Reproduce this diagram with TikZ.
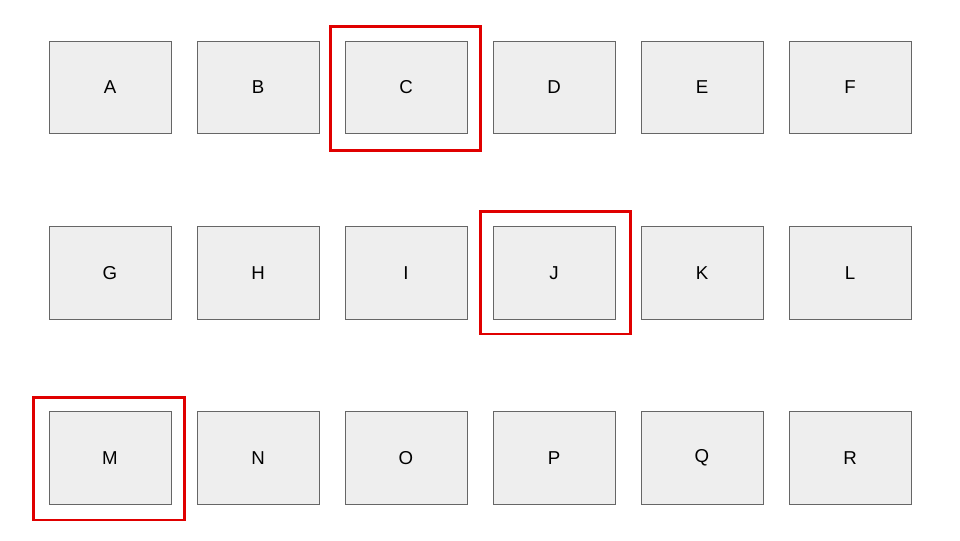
\documentclass[tikz,border=0pt]{standalone}
\usepackage{fontspec}
\setmainfont{Liberation Sans}
\usetikzlibrary{calc}

\definecolor{boxfill}{HTML}{EEEEEE}
\definecolor{boxline}{HTML}{666666}
\definecolor{hired}{HTML}{E00000}

\tikzset{
  cell/.style={draw=boxline, fill=boxfill, line width=0.75pt,
    minimum width=91.5pt, minimum height=69.5pt, inner sep=0pt,
    font=\fontsize{14}{16}\selectfont},
  hilite/.style={draw=hired, line width=2pt}
}

\begin{document}
\begin{tikzpicture}[x=0.75pt, y=-0.75pt]
                \useasboundingbox (0, 0) rectangle (960, 540);
                % Row 1
                \node [cell] (A) at (110, 87.5) {A};
                \node [cell] (B) at (258, 87.5) {B};
                \node [cell] (C) at (406, 87.5) {C};
                \node [cell] (D) at (554, 87.5) {D};
                \node [cell] (E) at (702, 87.5) {E};
                \node [cell] (F) at (850, 87.5) {F};
                % Row 2
                \node [cell] (G) at (110, 273) {G};
                \node [cell] (H) at (258, 273) {H};
                \node [cell] (I) at (406, 273) {I};
                \node [cell] (J) at (554, 273) {J};
                \node [cell] (K) at (702, 273) {K};
                \node [cell] (L) at (850, 273) {L};
                % Row 3
                \node [cell] (M) at (110, 458) {M};
                \node [cell] (N) at (258, 458) {N};
                \node [cell] (O) at (406, 458) {O};
                \node [cell] (P) at (554, 458) {P};
                \node [cell] (Q) at (702, 458) {Q};
                \node [cell] (R) at (850, 458) {R};
                % Highlights
                \draw [hilite] ($(C.north west)+(-14, -14)$) rectangle ($(C.south east)+(13, 16)$);
                \draw [hilite] ($(J.north west)+(-12, -15)$) rectangle ($(J.south east)+(15, 14)$);
                \draw [hilite] ($(M.north west)+(-15, -14)$) rectangle ($(M.south east)+(13, 15)$);
            \end{tikzpicture}
\end{document}
